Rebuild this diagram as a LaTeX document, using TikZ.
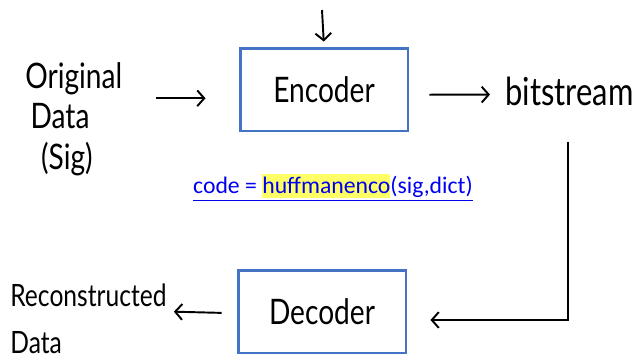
\documentclass[tikz,border=0pt]{standalone}
\usepackage{fontspec}
\usetikzlibrary{arrows.meta}

\newfontfamily\hand[FakeStretch=0.8]{Lato}
\newfontfamily\calib{Carlito}
\definecolor{boxblue}{RGB}{68,114,196}
\definecolor{linkblue}{RGB}{0,0,238}
\definecolor{hilite}{RGB}{255,255,102}

\begin{document}
\begin{tikzpicture}[x=0.02cm, y=-0.02cm,
	block/.style={draw=boxblue, line width=1.7pt, minimum width=3.36cm, minimum height=1.66cm, font=\hand\fontsize{20}{22}\selectfont},
	hw/.style={font=\hand\fontsize{20}{23}\selectfont, align=left, inner sep=0pt},
	arr/.style={-{Straight Barb[length=4pt,width=9pt]}, line width=1.1pt}]
	\useasboundingbox (0,0) rectangle (634,362);

\node[block] (enc) at (324, 89.5) {Encoder}; % encoder
\node[block] (dec) at (322, 311.5) {Decoder}; % decoder

\node[hw, anchor=north west] (orig) at (25, 62) {Original\\\hspace{3pt}Data\\\hspace{9pt}(Sig)}; % source
\node[hw, anchor=west, font=\hand\fontsize{22}{24}\selectfont] (bits) at (505, 91) {bitstream}; % channel
\node[hw, anchor=north west, font=\hand\fontsize{17.5}{27}\selectfont] (recon) at (10, 283) {Reconstructed\\Data}; % output

\node[font=\calib\fontsize{13.5}{15}\selectfont, text=linkblue] (code) at (333, 188)
	{\underline{code = {\fboxsep=0pt\colorbox{hilite}{\rule[-0.22em]{0pt}{1.02em}huffmanenco}}(sig,dict)}};

\coordinate (in) at (322, 10); % side input
\coordinate (turn) at (568, 320); % corner below bitstream

\draw[arr, shorten <=0.66cm, shorten >=0.66cm] ([yshift=-5pt]orig.east |- enc.west) -- ([yshift=-5pt]enc.west);
\draw[arr, shorten >=0.1cm] (in) -- (enc.north);
\draw[arr, shorten <=0.4cm, shorten >=0.3cm] ([yshift=-3pt]enc.east) -- ([yshift=-2pt]bits.west);
\draw[arr, shorten <=0.72cm, shorten >=0.46cm] (bits.south -| turn) -- (turn) -- (dec.east |- turn);
\draw[arr, shorten <=0.3cm, shorten >=0.14cm] ([yshift=-1pt]dec.west) -- (recon.east |- dec.west);

\end{tikzpicture}
\end{document}
